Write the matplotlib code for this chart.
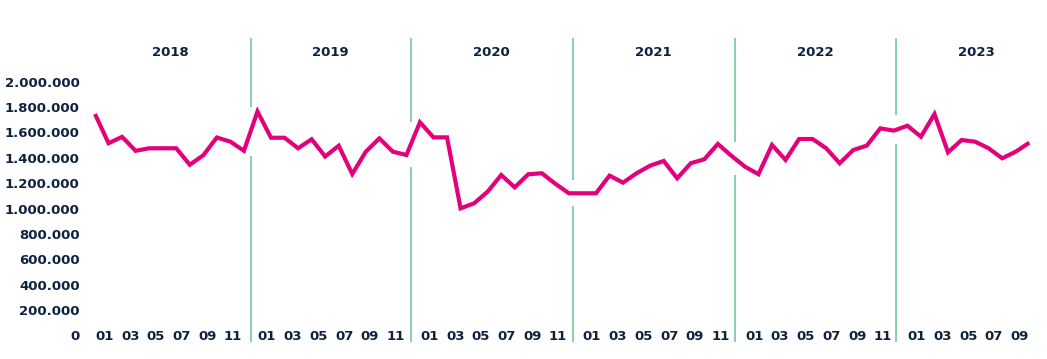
import numpy as np
import matplotlib
matplotlib.use('Agg')
import matplotlib.pyplot as plt

years = ['2018', '2019', '2020', '2021', '2022', '2023']
month_labels = ['01', '03', '05', '07', '09', '11']

v2018 = [1745000, 1515000, 1565000, 1455000, 1475000, 1475000, 1475000, 1345000, 1420000, 1560000, 1527000, 1455000]
v2019 = [1765000, 1558000, 1558000, 1475000, 1546000, 1410000, 1495000, 1272000, 1448000, 1553000, 1448000, 1422000]
v2020 = [1680000, 1561000, 1561000, 1001000, 1041000, 1133000, 1264000, 1167000, 1270000, 1278000, 1195000, 1120000]
v2021 = [1120000, 1120000, 1259000, 1204000, 1278000, 1338000, 1375000, 1238000, 1357000, 1388000, 1509000, 1416000]
v2022 = [1330000, 1270000, 1501000, 1383000, 1548000, 1548000, 1475000, 1357000, 1461000, 1496000, 1632000, 1614000]
v2023 = [1653000, 1566000, 1745000, 1443000, 1540000, 1527000, 1475000, 1396000, 1448000, 1519000]

yticks = [0, 200000, 400000, 600000, 800000, 1000000, 1200000, 1400000, 1600000, 1800000, 2000000]

series = [v2018, v2019, v2020, v2021, v2022, v2023]
values = np.array([v for s in series for v in s], dtype=float)
xs = np.arange(len(values))

PINK = '#e4007c'
MINT = '#7fcaa9'
NAVY = '#0c2340'
FS = 9.5

W, H = 1047, 359
fig = plt.figure(figsize=(W / 100, H / 100), dpi=100)
# axes spans pixel x 88..1040, y 38..342 (top-down)
ax = fig.add_axes([88 / W, (H - 342) / H, (1040 - 88) / W, (342 - 38) / H])
px_idx = 13.54
ax.set_xlim((88 - 95) / px_idx, (1040 - 95) / px_idx)
px_unit = 126.8 / 1e6
ax.set_ylim(-(342 - 335.3) / px_unit, (335.3 - 38) / px_unit)

for s in ax.spines.values():
    s.set_visible(False)
ax.set_xticks([])
ax.set_yticks(yticks)
ax.set_yticklabels([f"{v:,.0f}".replace(',', '.') for v in yticks],
                   fontsize=FS, fontweight='bold', color=NAVY)
ax.tick_params(axis='y', length=0, pad=6)

# year dividers (in month-index units)
dividers = [11.5, 23.32, 35.28, 47.24, 59.16]
ymin, ymax = ax.get_ylim()
for d in dividers:
    i0 = int(np.floor(d))
    f = d - i0
    yc = values[i0] + f * (values[i0 + 1] - values[i0])
    slope_px = abs(values[i0 + 1] - values[i0]) * px_unit / px_idx
    half = (13 + 4 * slope_px) / px_unit
    ax.plot([d, d], [ymin, yc - half], color=MINT, lw=1.3, zorder=1, solid_capstyle='butt')
    ax.plot([d, d], [yc + half, ymax], color=MINT, lw=1.3, zorder=1, solid_capstyle='butt')

ax.plot(xs, values, color=PINK, lw=3.0, zorder=3, solid_joinstyle='miter', solid_capstyle='butt')

# year labels centered in segments
half_w = (dividers[-1] - dividers[0]) / (len(dividers) - 1) / 2
centers = [dividers[0] - half_w] + [(a + b) / 2 for a, b in zip(dividers[:-1], dividers[1:])] + [dividers[-1] + half_w]
y_year = (335.3 - 53) / px_unit
for yr, c in zip(years, centers):
    ax.text(c, y_year, yr, ha='center', va='center', fontsize=FS, fontweight='bold', color=NAVY)

# month labels
y_month = (335.3 - 336.7) / px_unit
idx = 0
for s in series:
    for m in range(1, len(s) + 1, 2):
        off = 0.7 - 0.05 * (m - 1)
        ax.text(idx + m - 1 + off, y_month, month_labels[(m - 1) // 2], ha='center', va='center',
                fontsize=FS, fontweight='bold', color=NAVY, clip_on=False)
    idx += len(s)

fig.savefig('out.png', dpi=100)
